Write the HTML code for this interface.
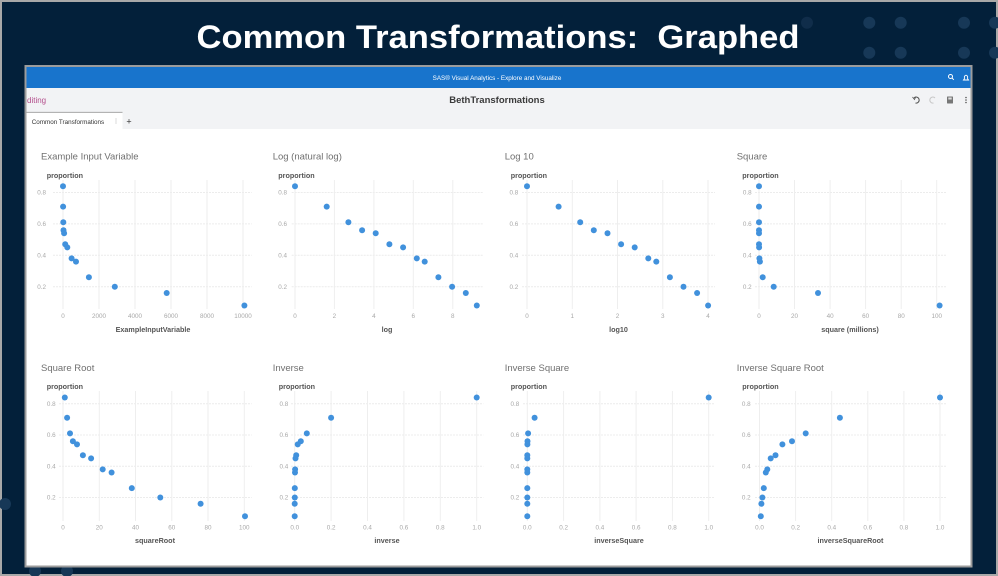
<!DOCTYPE html>
<html><head><meta charset="utf-8"><style>
html,body{margin:0;padding:0;width:998px;height:576px;overflow:hidden;background:#03203a;}
svg{display:block}
.t{font-family:"Liberation Sans",sans-serif}
.ttl{font-size:9.5px;fill:#707070}
.prop{font-size:7.2px;font-weight:bold;fill:#555}
.yl{font-size:6.3px;fill:#a8a8a8;text-anchor:end}
.xl{font-size:6.3px;fill:#a8a8a8;text-anchor:middle}
.xt{font-size:7.2px;font-weight:bold;fill:#555;text-anchor:middle}
.hg{stroke:#ececec;stroke-width:1;stroke-dasharray:2 1}
.vg{stroke:#eeeeee;stroke-width:1}
.pt circle{fill:#4191dc}
</style></head><body>
<svg width="998" height="576" viewBox="0 0 998 576" xmlns="http://www.w3.org/2000/svg">
<rect x="0" y="0" width="998" height="576" fill="#03203a"/>
<rect x="1" y="1" width="996" height="574" fill="none" stroke="#a8a8a8" stroke-width="2"/>
<!-- dots -->
<g fill="#173857">
<circle cx="807" cy="22.7" r="6" fill="#102d4a"/>
<circle cx="869.3" cy="22.7" r="6"/><circle cx="900.7" cy="22.7" r="6"/><circle cx="964" cy="22.7" r="6"/><circle cx="995" cy="22.7" r="6"/>
<circle cx="869.3" cy="52.7" r="6"/><circle cx="900.7" cy="52.7" r="6"/><circle cx="964" cy="52.7" r="6"/><circle cx="995" cy="52.7" r="6"/>
<circle cx="5" cy="504" r="6"/><circle cx="35" cy="571" r="6"/><circle cx="67" cy="571" r="6"/>
</g>
<text class="t" x="498" y="48" text-anchor="middle" font-size="32" font-weight="bold" fill="#ffffff" textLength="603" lengthAdjust="spacingAndGlyphs">Common Transformations:&#160; Graphed</text>

<!-- screenshot frame -->
<rect x="25.5" y="66" width="946" height="500.5" fill="#ffffff" stroke="#9c9c9c" stroke-width="2"/>
<rect x="26.5" y="67" width="944" height="21" fill="#1874cc"/>
<text class="t" x="497" y="80" text-anchor="middle" font-size="6.3" fill="#ffffff">SAS® Visual Analytics - Explore and Visualize</text>
<!-- search & bell -->
<circle cx="950.5" cy="76.5" r="2" fill="none" stroke="#fff" stroke-width="1"/>
<line x1="952" y1="78" x2="953.8" y2="79.8" stroke="#fff" stroke-width="1"/>
<path d="M963.5 80 L968.5 80 L967.6 78.8 L967.6 76.5 Q966 73.8 964.4 76.5 L964.4 78.8 Z" fill="none" stroke="#fff" stroke-width="0.9"/>
<!-- toolbar -->
<rect x="26.5" y="88" width="944" height="41" fill="#f2f3f5"/>
<text class="t" x="27" y="103" font-size="8" fill="#b4508c">diting</text>
<text class="t" x="497" y="103" text-anchor="middle" font-size="9.5" font-weight="bold" fill="#3a3a3a">BethTransformations</text>
<path d="M914 98 A3 3 0 1 1 915.5 103" fill="none" stroke="#555" stroke-width="1"/>
<path d="M912.5 97 L914.5 99.5 L916 96.5" fill="none" stroke="#555" stroke-width="0.8"/>
<path d="M935 98 A3 3 0 1 0 933.5 103" fill="none" stroke="#c8c8c8" stroke-width="1"/>
<rect x="947" y="96.5" width="6" height="7" fill="#777" rx="0.5"/>
<rect x="948.3" y="97.5" width="3.4" height="2" fill="#ddd"/>
<circle cx="966" cy="97.5" r="0.8" fill="#555"/><circle cx="966" cy="100" r="0.8" fill="#555"/><circle cx="966" cy="102.5" r="0.8" fill="#555"/>
<!-- tab -->
<rect x="26.5" y="112" width="96" height="17" fill="#ffffff"/>
<line x1="26.5" y1="112.3" x2="122.5" y2="112.3" stroke="#9a9a9a" stroke-width="0.8"/>
<text class="t" x="31.7" y="123.8" font-size="6.3" fill="#333">Common Transformations</text>
<line x1="116" y1="118.5" x2="116" y2="124.5" stroke="#999" stroke-width="0.7" stroke-dasharray="1 1"/>
<text class="t" x="129" y="124.5" text-anchor="middle" font-size="9" fill="#333">+</text>
<rect x="26.5" y="129" width="944" height="436.5" fill="#ffffff"/>

<!-- ================= CHART 1 ================= -->
<text class="t ttl" x="41" y="159.5">Example Input Variable</text>
<text class="t prop" x="46.7" y="177.8">proportion</text>
<g>
<line class="hg" x1="53" y1="192.5" x2="251.7" y2="192.5"/><line class="hg" x1="53" y1="223.9" x2="251.7" y2="223.9"/><line class="hg" x1="53" y1="255.3" x2="251.7" y2="255.3"/><line class="hg" x1="53" y1="286.7" x2="251.7" y2="286.7"/>
<line class="vg" x1="63" y1="180" x2="63" y2="309"/><line class="vg" x1="99" y1="180" x2="99" y2="309"/><line class="vg" x1="135" y1="180" x2="135" y2="309"/><line class="vg" x1="171" y1="180" x2="171" y2="309"/><line class="vg" x1="207" y1="180" x2="207" y2="309"/><line class="vg" x1="243" y1="180" x2="243" y2="309"/>
</g>
<text class="t yl" x="46" y="194.7">0.8</text><text class="t yl" x="46" y="226.1">0.6</text><text class="t yl" x="46" y="257.5">0.4</text><text class="t yl" x="46" y="288.9">0.2</text>
<text class="t xl" x="63" y="318.2">0</text><text class="t xl" x="99" y="318.2">2000</text><text class="t xl" x="135" y="318.2">4000</text><text class="t xl" x="171" y="318.2">6000</text><text class="t xl" x="207" y="318.2">8000</text><text class="t xl" x="243" y="318.2">10000</text>
<text class="t xt" x="153" y="331.8">ExampleInputVariable</text>
<g class="pt">
<circle cx="63" cy="186.2" r="3"/><circle cx="63.1" cy="206.6" r="3"/><circle cx="63.3" cy="222.3" r="3"/><circle cx="63.5" cy="230.2" r="3"/><circle cx="64.1" cy="233.3" r="3"/><circle cx="65.2" cy="244.3" r="3"/><circle cx="67.3" cy="247.4" r="3"/><circle cx="71.6" cy="258.4" r="3"/><circle cx="76" cy="261.6" r="3"/><circle cx="88.9" cy="277.3" r="3"/><circle cx="114.8" cy="286.7" r="3"/><circle cx="166.7" cy="293" r="3"/><circle cx="244.4" cy="305.5" r="3"/>
</g>

<!-- ================= CHART 2 ================= -->
<text class="t ttl" x="272.7" y="159.5">Log (natural log)</text>
<text class="t prop" x="278.3" y="177.8">proportion</text>
<g>
<line class="hg" x1="291.7" y1="192.5" x2="483.3" y2="192.5"/><line class="hg" x1="291.7" y1="223.9" x2="483.3" y2="223.9"/><line class="hg" x1="291.7" y1="255.3" x2="483.3" y2="255.3"/><line class="hg" x1="291.7" y1="286.7" x2="483.3" y2="286.7"/>
<line class="vg" x1="295" y1="180" x2="295" y2="309"/><line class="vg" x1="334.4" y1="180" x2="334.4" y2="309"/><line class="vg" x1="373.9" y1="180" x2="373.9" y2="309"/><line class="vg" x1="413.3" y1="180" x2="413.3" y2="309"/><line class="vg" x1="452.8" y1="180" x2="452.8" y2="309"/>
</g>
<text class="t yl" x="287" y="194.7">0.8</text><text class="t yl" x="287" y="226.1">0.6</text><text class="t yl" x="287" y="257.5">0.4</text><text class="t yl" x="287" y="288.9">0.2</text>
<text class="t xl" x="295" y="318.2">0</text><text class="t xl" x="334.4" y="318.2">2</text><text class="t xl" x="373.9" y="318.2">4</text><text class="t xl" x="413.3" y="318.2">6</text><text class="t xl" x="452.8" y="318.2">8</text>
<text class="t xt" x="387" y="331.8">log</text>
<g class="pt">
<circle cx="295" cy="186.2" r="3"/><circle cx="326.7" cy="206.6" r="3"/><circle cx="348.4" cy="222.3" r="3"/><circle cx="362.1" cy="230.2" r="3"/><circle cx="375.7" cy="233.3" r="3"/><circle cx="389.4" cy="244.3" r="3"/><circle cx="403.1" cy="247.4" r="3"/><circle cx="416.8" cy="258.4" r="3"/><circle cx="424.7" cy="261.6" r="3"/><circle cx="438.4" cy="277.3" r="3"/><circle cx="452.1" cy="286.7" r="3"/><circle cx="465.8" cy="293" r="3"/><circle cx="476.8" cy="305.5" r="3"/>
</g>

<!-- ================= CHART 3 ================= -->
<text class="t ttl" x="504.7" y="159.5">Log 10</text>
<text class="t prop" x="510.7" y="177.8">proportion</text>
<g>
<line class="hg" x1="522" y1="192.5" x2="715" y2="192.5"/><line class="hg" x1="522" y1="223.9" x2="715" y2="223.9"/><line class="hg" x1="522" y1="255.3" x2="715" y2="255.3"/><line class="hg" x1="522" y1="286.7" x2="715" y2="286.7"/>
<line class="vg" x1="527" y1="180" x2="527" y2="309"/><line class="vg" x1="572.3" y1="180" x2="572.3" y2="309"/><line class="vg" x1="617.5" y1="180" x2="617.5" y2="309"/><line class="vg" x1="662.8" y1="180" x2="662.8" y2="309"/><line class="vg" x1="708" y1="180" x2="708" y2="309"/>
</g>
<text class="t yl" x="518.3" y="194.7">0.8</text><text class="t yl" x="518.3" y="226.1">0.6</text><text class="t yl" x="518.3" y="257.5">0.4</text><text class="t yl" x="518.3" y="288.9">0.2</text>
<text class="t xl" x="527" y="318.2">0</text><text class="t xl" x="572.3" y="318.2">1</text><text class="t xl" x="617.5" y="318.2">2</text><text class="t xl" x="662.8" y="318.2">3</text><text class="t xl" x="708" y="318.2">4</text>
<text class="t xt" x="618.5" y="331.8">log10</text>
<g class="pt">
<circle cx="527" cy="186.2" r="3"/><circle cx="558.6" cy="206.6" r="3"/><circle cx="580.2" cy="222.3" r="3"/><circle cx="593.8" cy="230.2" r="3"/><circle cx="607.5" cy="233.3" r="3"/><circle cx="621.1" cy="244.3" r="3"/><circle cx="634.7" cy="247.4" r="3"/><circle cx="648.3" cy="258.4" r="3"/><circle cx="656.3" cy="261.6" r="3"/><circle cx="669.9" cy="277.3" r="3"/><circle cx="683.5" cy="286.7" r="3"/><circle cx="697.1" cy="293" r="3"/><circle cx="708.1" cy="305.5" r="3"/>
</g>

<!-- ================= CHART 4 ================= -->
<text class="t ttl" x="736.7" y="159.5">Square</text>
<text class="t prop" x="742.3" y="177.8">proportion</text>
<g>
<line class="hg" x1="755" y1="192.5" x2="946.7" y2="192.5"/><line class="hg" x1="755" y1="223.9" x2="946.7" y2="223.9"/><line class="hg" x1="755" y1="255.3" x2="946.7" y2="255.3"/><line class="hg" x1="755" y1="286.7" x2="946.7" y2="286.7"/>
<line class="vg" x1="759" y1="180" x2="759" y2="309"/><line class="vg" x1="794.5" y1="180" x2="794.5" y2="309"/><line class="vg" x1="830.1" y1="180" x2="830.1" y2="309"/><line class="vg" x1="865.6" y1="180" x2="865.6" y2="309"/><line class="vg" x1="901.2" y1="180" x2="901.2" y2="309"/><line class="vg" x1="936.7" y1="180" x2="936.7" y2="309"/>
</g>
<text class="t yl" x="751.7" y="194.7">0.8</text><text class="t yl" x="751.7" y="226.1">0.6</text><text class="t yl" x="751.7" y="257.5">0.4</text><text class="t yl" x="751.7" y="288.9">0.2</text>
<text class="t xl" x="759" y="318.2">0</text><text class="t xl" x="794.5" y="318.2">20</text><text class="t xl" x="830.1" y="318.2">40</text><text class="t xl" x="865.6" y="318.2">60</text><text class="t xl" x="901.2" y="318.2">80</text><text class="t xl" x="936.7" y="318.2">100</text>
<text class="t xt" x="850" y="331.8">square (millions)</text>
<g class="pt">
<circle cx="759" cy="186.2" r="3"/><circle cx="759" cy="206.6" r="3"/><circle cx="759" cy="222.3" r="3"/><circle cx="759" cy="230.2" r="3"/><circle cx="759" cy="233.3" r="3"/><circle cx="759" cy="244.3" r="3"/><circle cx="759.1" cy="247.4" r="3"/><circle cx="759.4" cy="258.4" r="3"/><circle cx="759.9" cy="261.6" r="3"/><circle cx="762.7" cy="277.3" r="3"/><circle cx="773.7" cy="286.7" r="3"/><circle cx="818" cy="293" r="3"/><circle cx="939.6" cy="305.5" r="3"/>
</g>

<!-- ================= CHART 5 ================= -->
<text class="t ttl" x="41" y="370.8">Square Root</text>
<text class="t prop" x="46.7" y="389">proportion</text>
<g>
<line class="hg" x1="59" y1="403.7" x2="251.7" y2="403.7"/><line class="hg" x1="59" y1="435" x2="251.7" y2="435"/><line class="hg" x1="59" y1="466.2" x2="251.7" y2="466.2"/><line class="hg" x1="59" y1="497.5" x2="251.7" y2="497.5"/>
<line class="vg" x1="63" y1="391" x2="63" y2="521"/><line class="vg" x1="99.3" y1="391" x2="99.3" y2="521"/><line class="vg" x1="135.5" y1="391" x2="135.5" y2="521"/><line class="vg" x1="171.8" y1="391" x2="171.8" y2="521"/><line class="vg" x1="208" y1="391" x2="208" y2="521"/><line class="vg" x1="244.3" y1="391" x2="244.3" y2="521"/>
</g>
<text class="t yl" x="55.7" y="405.9">0.8</text><text class="t yl" x="55.7" y="437.2">0.6</text><text class="t yl" x="55.7" y="468.4">0.4</text><text class="t yl" x="55.7" y="499.7">0.2</text>
<text class="t xl" x="63" y="529.5">0</text><text class="t xl" x="99.3" y="529.5">20</text><text class="t xl" x="135.5" y="529.5">40</text><text class="t xl" x="171.8" y="529.5">60</text><text class="t xl" x="208" y="529.5">80</text><text class="t xl" x="244.3" y="529.5">100</text>
<text class="t xt" x="155" y="542.8">squareRoot</text>
<g class="pt">
<circle cx="64.8" cy="397.5" r="3"/><circle cx="67.1" cy="417.8" r="3"/><circle cx="70" cy="433.4" r="3"/><circle cx="72.9" cy="441.2" r="3"/><circle cx="77" cy="444.4" r="3"/><circle cx="82.9" cy="455.3" r="3"/><circle cx="91.1" cy="458.4" r="3"/><circle cx="102.7" cy="469.4" r="3"/><circle cx="111.6" cy="472.5" r="3"/><circle cx="131.8" cy="488.1" r="3"/><circle cx="160.3" cy="497.5" r="3"/><circle cx="200.6" cy="503.8" r="3"/><circle cx="245" cy="516.3" r="3"/>
</g>

<!-- ================= CHART 6 ================= -->
<text class="t ttl" x="272.7" y="370.8">Inverse</text>
<text class="t prop" x="278.7" y="389">proportion</text>
<g>
<line class="hg" x1="291" y1="403.7" x2="483.3" y2="403.7"/><line class="hg" x1="291" y1="435" x2="483.3" y2="435"/><line class="hg" x1="291" y1="466.2" x2="483.3" y2="466.2"/><line class="hg" x1="291" y1="497.5" x2="483.3" y2="497.5"/>
<line class="vg" x1="294.7" y1="391" x2="294.7" y2="521"/><line class="vg" x1="331.1" y1="391" x2="331.1" y2="521"/><line class="vg" x1="367.5" y1="391" x2="367.5" y2="521"/><line class="vg" x1="403.9" y1="391" x2="403.9" y2="521"/><line class="vg" x1="440.3" y1="391" x2="440.3" y2="521"/><line class="vg" x1="476.7" y1="391" x2="476.7" y2="521"/>
</g>
<text class="t yl" x="288.3" y="405.9">0.8</text><text class="t yl" x="288.3" y="437.2">0.6</text><text class="t yl" x="288.3" y="468.4">0.4</text><text class="t yl" x="288.3" y="499.7">0.2</text>
<text class="t xl" x="294.7" y="529.5">0.0</text><text class="t xl" x="331.1" y="529.5">0.2</text><text class="t xl" x="367.5" y="529.5">0.4</text><text class="t xl" x="403.9" y="529.5">0.6</text><text class="t xl" x="440.3" y="529.5">0.8</text><text class="t xl" x="476.7" y="529.5">1.0</text>
<text class="t xt" x="387" y="542.8">inverse</text>
<g class="pt">
<circle cx="476.7" cy="397.5" r="3"/><circle cx="331.1" cy="417.8" r="3"/><circle cx="306.8" cy="433.4" r="3"/><circle cx="300.8" cy="441.2" r="3"/><circle cx="297.7" cy="444.4" r="3"/><circle cx="296.2" cy="455.3" r="3"/><circle cx="295.5" cy="458.4" r="3"/><circle cx="295.1" cy="469.4" r="3"/><circle cx="295" cy="472.5" r="3"/><circle cx="294.8" cy="488.1" r="3"/><circle cx="294.8" cy="497.5" r="3"/><circle cx="294.7" cy="503.8" r="3"/><circle cx="294.7" cy="516.3" r="3"/>
</g>

<!-- ================= CHART 7 ================= -->
<text class="t ttl" x="504.7" y="370.8">Inverse Square</text>
<text class="t prop" x="510.7" y="389">proportion</text>
<g>
<line class="hg" x1="523" y1="403.7" x2="715" y2="403.7"/><line class="hg" x1="523" y1="435" x2="715" y2="435"/><line class="hg" x1="523" y1="466.2" x2="715" y2="466.2"/><line class="hg" x1="523" y1="497.5" x2="715" y2="497.5"/>
<line class="vg" x1="527.3" y1="391" x2="527.3" y2="521"/><line class="vg" x1="563.6" y1="391" x2="563.6" y2="521"/><line class="vg" x1="599.9" y1="391" x2="599.9" y2="521"/><line class="vg" x1="636.1" y1="391" x2="636.1" y2="521"/><line class="vg" x1="672.4" y1="391" x2="672.4" y2="521"/><line class="vg" x1="708.7" y1="391" x2="708.7" y2="521"/>
</g>
<text class="t yl" x="519.3" y="405.9">0.8</text><text class="t yl" x="519.3" y="437.2">0.6</text><text class="t yl" x="519.3" y="468.4">0.4</text><text class="t yl" x="519.3" y="499.7">0.2</text>
<text class="t xl" x="527.3" y="529.5">0.0</text><text class="t xl" x="563.6" y="529.5">0.2</text><text class="t xl" x="599.9" y="529.5">0.4</text><text class="t xl" x="636.1" y="529.5">0.6</text><text class="t xl" x="672.4" y="529.5">0.8</text><text class="t xl" x="708.7" y="529.5">1.0</text>
<text class="t xt" x="619" y="542.8">inverseSquare</text>
<g class="pt">
<circle cx="708.7" cy="397.5" r="3"/><circle cx="534.6" cy="417.8" r="3"/><circle cx="528.1" cy="433.4" r="3"/><circle cx="527.5" cy="441.2" r="3"/><circle cx="527.4" cy="444.4" r="3"/><circle cx="527.3" cy="455.3" r="3"/><circle cx="527.3" cy="458.4" r="3"/><circle cx="527.3" cy="469.4" r="3"/><circle cx="527.3" cy="472.5" r="3"/><circle cx="527.3" cy="488.1" r="3"/><circle cx="527.3" cy="497.5" r="3"/><circle cx="527.3" cy="503.8" r="3"/><circle cx="527.3" cy="516.3" r="3"/>
</g>

<!-- ================= CHART 8 ================= -->
<text class="t ttl" x="736.7" y="370.8">Inverse Square Root</text>
<text class="t prop" x="742.3" y="389">proportion</text>
<g>
<line class="hg" x1="755" y1="403.7" x2="946.7" y2="403.7"/><line class="hg" x1="755" y1="435" x2="946.7" y2="435"/><line class="hg" x1="755" y1="466.2" x2="946.7" y2="466.2"/><line class="hg" x1="755" y1="497.5" x2="946.7" y2="497.5"/>
<line class="vg" x1="759.5" y1="391" x2="759.5" y2="521"/><line class="vg" x1="795.6" y1="391" x2="795.6" y2="521"/><line class="vg" x1="831.7" y1="391" x2="831.7" y2="521"/><line class="vg" x1="867.8" y1="391" x2="867.8" y2="521"/><line class="vg" x1="903.9" y1="391" x2="903.9" y2="521"/><line class="vg" x1="940" y1="391" x2="940" y2="521"/>
</g>
<text class="t yl" x="750.7" y="405.9">0.8</text><text class="t yl" x="750.7" y="437.2">0.6</text><text class="t yl" x="750.7" y="468.4">0.4</text><text class="t yl" x="750.7" y="499.7">0.2</text>
<text class="t xl" x="759.5" y="529.5">0.0</text><text class="t xl" x="795.6" y="529.5">0.2</text><text class="t xl" x="831.7" y="529.5">0.4</text><text class="t xl" x="867.8" y="529.5">0.6</text><text class="t xl" x="903.9" y="529.5">0.8</text><text class="t xl" x="940" y="529.5">1.0</text>
<text class="t xt" x="850.5" y="542.8">inverseSquareRoot</text>
<g class="pt">
<circle cx="940" cy="397.5" r="3"/><circle cx="839.9" cy="417.8" r="3"/><circle cx="805.7" cy="433.4" r="3"/><circle cx="792" cy="441.2" r="3"/><circle cx="782.4" cy="444.4" r="3"/><circle cx="775.5" cy="455.3" r="3"/><circle cx="770.7" cy="458.4" r="3"/><circle cx="767.3" cy="469.4" r="3"/><circle cx="765.8" cy="472.5" r="3"/><circle cx="763.8" cy="488.1" r="3"/><circle cx="762.4" cy="497.5" r="3"/><circle cx="761.4" cy="503.8" r="3"/><circle cx="760.8" cy="516.3" r="3"/>
</g>
</svg>
</body></html>
